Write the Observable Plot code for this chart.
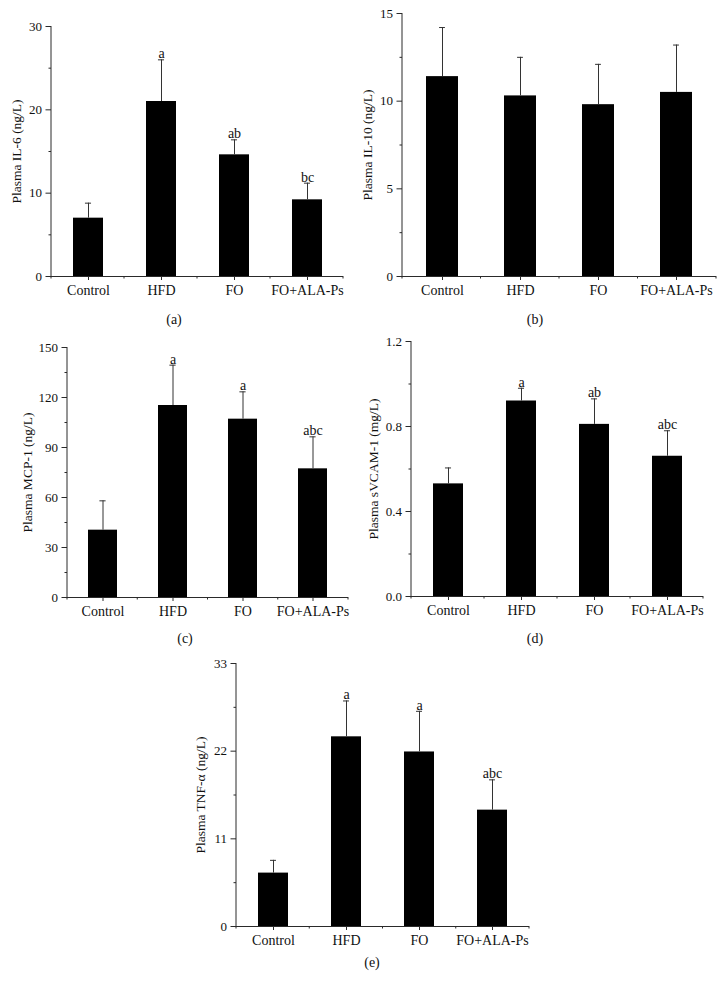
<!DOCTYPE html>
<html><head><meta charset="utf-8">
<script src="https://cdn.jsdelivr.net/npm/d3@7"></script>
<script src="https://cdn.jsdelivr.net/npm/@observablehq/plot@0.6"></script>
<style>
body{margin:0;background:#fff;}
#fig{position:relative;width:723px;height:981px;font-family:"Liberation Serif",serif;color:#111;}
.panel{position:absolute;}
.cap{position:absolute;font-size:14px;transform:translate(-50%,-50%);white-space:nowrap;}
</style></head><body><div id="fig"></div>
<script>
const groups = ["Control", "HFD", "FO", "FO+ALA-Ps"];

const il6Mean = [7.0, 21.0, 14.6, 9.2];
const il6SD = [1.8, 5.0, 1.8, 2.0];
const il6Letters = ["", "a", "ab", "bc"];
const il6Ticks = [0, 10, 20, 30];
const il6Minor = [5, 15, 25];

const il10Mean = [11.4, 10.3, 9.8, 10.5];
const il10SD = [2.8, 2.2, 2.3, 2.7];
const il10Letters = ["", "", "", ""];
const il10Ticks = [0, 5, 10, 15];
const il10Minor = [2.5, 7.5, 12.5];

const mcpMean = [40.4, 115.2, 107.0, 77.2];
const mcpSD = [17.6, 24.2, 16.4, 19.2];
const mcpLetters = ["", "a", "a", "abc"];
const mcpTicks = [0, 30, 60, 90, 120, 150];
const mcpMinor = [15, 45, 75, 105, 135];

const vcamMean = [0.53, 0.92, 0.81, 0.66];
const vcamSD = [0.075, 0.06, 0.12, 0.12];
const vcamLetters = ["", "a", "ab", "abc"];
const vcamTicks = [0, 0.4, 0.8, 1.2];
const vcamMinor = [0.2, 0.6, 1.0];

const tnfMean = [6.7, 23.8, 21.9, 14.6];
const tnfSD = [1.6, 4.5, 5.1, 3.8];
const tnfLetters = ["", "a", "a", "abc"];
const tnfTicks = [0, 11, 22, 33];
const tnfMinor = [5.5, 16.5, 27.5];

const fig = document.getElementById("fig");
const AX = "#2a2a2a";
const FS = 14;

function makePanel(o) {
  const data = groups.map((g, i) => ({group: g, mean: o.mean[i], hi: o.mean[i] + o.sd[i], letter: o.letters[i]}));
  const pi = 0.59;
  const step = (o.width - o.mL - o.mR) / groups.length;
  const bw = step * (1 - pi);
  const capInset = (bw - 6) / 2;
  const yAxisLine = (index, scales, values, dims) => {
    const g = d3.create("svg:g");
    g.append("line").attr("x1", dims.marginLeft).attr("x2", dims.marginLeft)
      .attr("y1", dims.marginTop).attr("y2", dims.height - dims.marginBottom)
      .attr("stroke", AX).attr("stroke-width", 1);
    return g.node();
  };
  const xMinorTicks = (index, scales, values, dims) => {
    const g = d3.create("svg:g");
    const x0 = dims.marginLeft, x1 = dims.width - dims.marginRight;
    const y = dims.height - dims.marginBottom;
    const n = groups.length;
    for (let i = 0; i <= n; i++) {
      const x = x0 + (x1 - x0) * i / n;
      g.append("line").attr("x1", x).attr("x2", x).attr("y1", y).attr("y2", y + 2.5)
        .attr("stroke", AX).attr("stroke-width", 1);
    }
    return g.node();
  };
  const chart = Plot.plot({
    width: o.width, height: o.height,
    marginLeft: o.mL, marginRight: o.mR, marginTop: o.mT, marginBottom: o.mB,
    style: {fontFamily: '"Liberation Serif", serif', fontSize: FS + "px", color: "#111", background: "transparent", overflow: "visible"},
    x: {domain: groups, paddingInner: pi, paddingOuter: pi / 2},
    y: {domain: [0, o.yMax]},
    marks: [
      Plot.barY(data, {x: "group", y: "mean", fill: "#000"}),
      Plot.ruleX(data, {x: "group", y1: "mean", y2: "hi", stroke: "#333", strokeWidth: 1}),
      Plot.tickY(data, {x: "group", y: "hi", stroke: "#333", strokeWidth: 1, insetLeft: capInset, insetRight: capInset}),
      Plot.text(data, {x: "group", y: "hi", text: "letter", lineAnchor: "bottom", dy: -1.5, fontSize: FS, fill: "#111"}),
      Plot.ruleY([0], {stroke: AX, strokeWidth: 1}),
      yAxisLine,
      Plot.axisY({ticks: o.yTicks, tickSize: 5.5, tickPadding: 4, tickFormat: o.yFormat, label: null, stroke: AX, fontSize: 13}),
      Plot.axisY({ticks: o.yMinor, tickSize: 2.5, tickFormat: () => "", label: null, stroke: AX}),
      Plot.axisX({tickSize: 4, tickPadding: 5, label: null, stroke: AX, fontSize: FS}),
      xMinorTicks,
      Plot.text([o.yLabel], {frameAnchor: "left", textAnchor: "middle", lineAnchor: "middle", rotate: -90, dx: -o.labelOffset, text: d => d, fontSize: 13.5, fill: "#111"})
    ]
  });
  const wrap = document.createElement("div");
  wrap.className = "panel";
  wrap.style.left = o.left + "px";
  wrap.style.top = o.top + "px";
  wrap.appendChild(chart);
  fig.appendChild(wrap);
  const cap = document.createElement("div");
  cap.className = "cap";
  cap.textContent = o.caption;
  cap.style.left = o.capX + "px";
  cap.style.top = o.capY + "px";
  fig.appendChild(cap);
}

makePanel({mean: il6Mean, sd: il6SD, letters: il6Letters, yMax: 30, yTicks: il6Ticks, yMinor: il6Minor, yFormat: d3.format("d"),
  yLabel: "Plasma IL-6 (ng/L)", labelOffset: 35, left: 0, top: 0, width: 360, height: 300, mL: 51, mR: 17, mT: 26, mB: 24,
  caption: "(a)", capX: 174, capY: 320});
makePanel({mean: il10Mean, sd: il10SD, letters: il10Letters, yMax: 15, yTicks: il10Ticks, yMinor: il10Minor, yFormat: d3.format("d"),
  yLabel: "Plasma IL-10 (ng/L)", labelOffset: 35, left: 360, top: 0, width: 363, height: 300, mL: 42, mR: 7, mT: 13, mB: 24,
  caption: "(b)", capX: 535, capY: 320});
makePanel({mean: mcpMean, sd: mcpSD, letters: mcpLetters, yMax: 150, yTicks: mcpTicks, yMinor: mcpMinor, yFormat: d3.format("d"),
  yLabel: "Plasma MCP-1 (ng/L)", labelOffset: 40, left: 0, top: 320, width: 360, height: 300, mL: 67, mR: 12, mT: 27, mB: 23,
  caption: "(c)", capX: 185, capY: 639});
makePanel({mean: vcamMean, sd: vcamSD, letters: vcamLetters, yMax: 1.2, yTicks: vcamTicks, yMinor: vcamMinor, yFormat: d3.format(".1f"),
  yLabel: "Plasma sVCAM-1 (mg/L)", labelOffset: 38, left: 360, top: 320, width: 363, height: 300, mL: 51, mR: 20, mT: 21, mB: 24,
  caption: "(d)", capX: 535, capY: 639});
makePanel({mean: tnfMean, sd: tnfSD, letters: tnfLetters, yMax: 33, yTicks: tnfTicks, yMinor: tnfMinor, yFormat: d3.format("d"),
  yLabel: "Plasma TNF-\u03b1 (ng/L)", labelOffset: 36, left: 180, top: 640, width: 380, height: 310, mL: 56, mR: 31, mT: 23, mB: 24,
  caption: "(e)", capX: 372, capY: 963});
</script>
</body></html>
